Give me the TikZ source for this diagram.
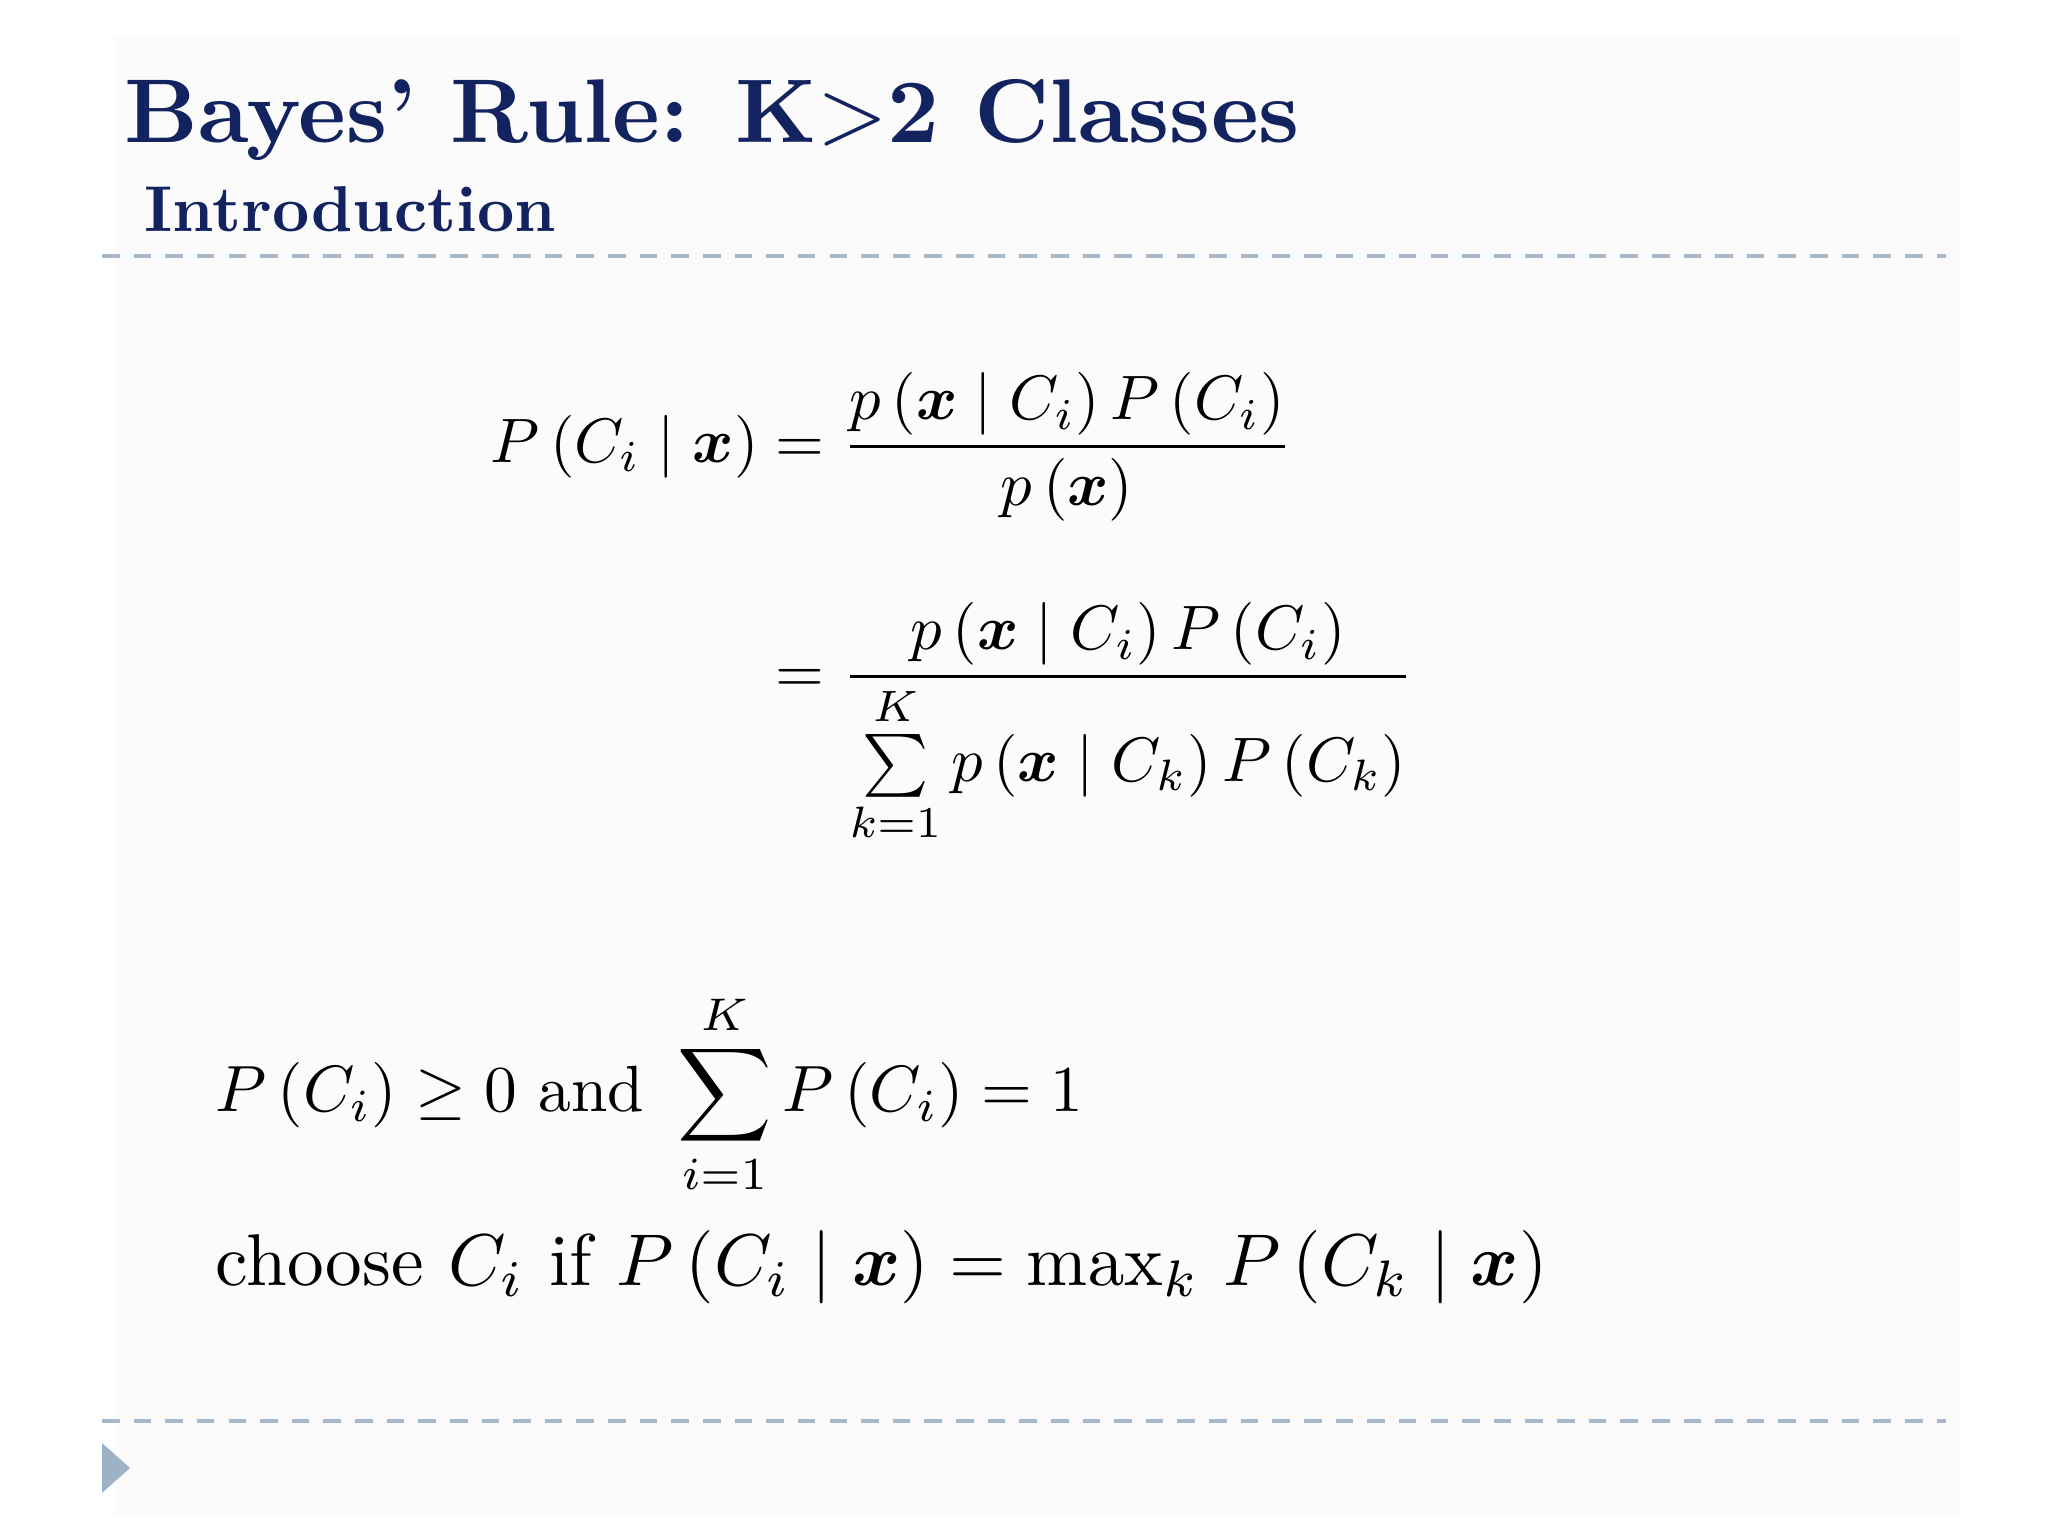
\documentclass[tikz,border=0pt]{standalone}
\usepackage{amsmath,amssymb}
\definecolor{navy}{HTML}{12235F}
\definecolor{dashc}{HTML}{A8B8CB}
\definecolor{tri}{HTML}{9EB2C7}
\begin{document}
\begin{tikzpicture}[x=1cm,y=1cm,
  dline/.style={dashc,line width=1.2pt,dash pattern=on 5pt off 4pt},
  ttl/.style={anchor=west,inner sep=0pt,text=navy,font=\bfseries}]
\useasboundingbox (0,0) rectangle (20.48,15.36);
\fill[white] (0,0) rectangle (20.48,15.36);
\fill[gray!3] (1.15,0.2) rectangle (19.6,15.0);
\node[ttl] (title) at (1.24,14.16) {\resizebox{11.75cm}{!}{Bayes' Rule: K$>$2 Classes}};
\node[ttl] (sub) at (1.44,13.27) {\resizebox{4.11cm}{!}{Introduction}};
\draw[dline] (1.02,12.80) -- (19.46,12.80);
\draw[dline] (1.02,1.15) -- (19.46,1.15);
\fill[tri] (1.02,0.93) -- (1.02,0.43) -- (1.30,0.68) -- cycle;
\node[anchor=north west,inner sep=0pt] (eq) at (4.90,11.64) {\resizebox{9.23cm}{!}{$\displaystyle
\begin{aligned}
P\left(C_i\mid \boldsymbol{x}\right) &= \frac{p\left(\boldsymbol{x}\mid C_i\right)P\left(C_i\right)}{p\left(\boldsymbol{x}\right)}\\[9pt]
&= \frac{p\left(\boldsymbol{x}\mid C_i\right)P\left(C_i\right)}{\sum\limits_{k=1}^{K} p\left(\boldsymbol{x}\mid C_k\right)P\left(C_k\right)}
\end{aligned}$}};
\node[anchor=west,inner sep=0pt] (l1) at (2.15,4.42) {\resizebox{8.68cm}{!}{$\displaystyle P\left(C_i\right)\ge 0 \text{ and } \sum_{i=1}^{K} P\left(C_i\right)=1$}};
\node[anchor=west,inner sep=0pt] (l2) at (2.15,2.69) {\resizebox{13.32cm}{!}{$\text{choose } C_i \text{ if } P\left(C_i\mid\boldsymbol{x}\right)=\max\nolimits_k\, P\left(C_k\mid\boldsymbol{x}\right)$}};
\end{tikzpicture}
\end{document}
